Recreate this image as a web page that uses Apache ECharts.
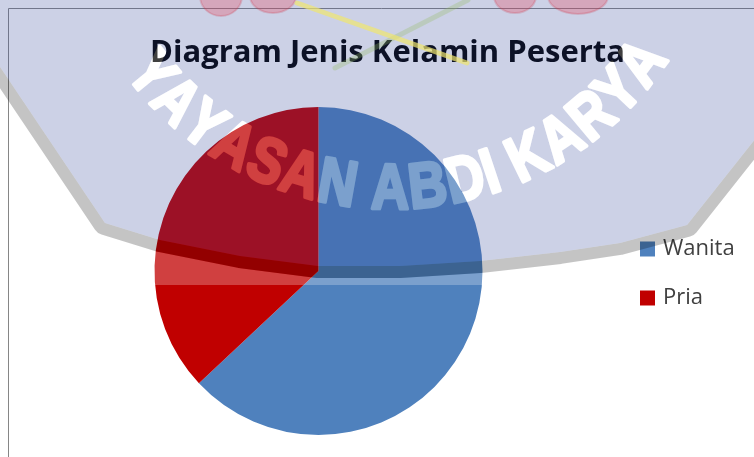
<!DOCTYPE html>
<html>
<head>
<meta charset="utf-8">
<script src="https://cdn.jsdelivr.net/npm/echarts@6/dist/echarts.min.js"></script>
<style>
html,body{margin:0;padding:0;background:#fff}
#main{width:754px;height:457px}
</style>
</head>
<body>
<div id="main"></div>
<script>
const genderLabels = ['Wanita', 'Pria'];
const genderValues = [63, 37];
const sliceColors = ['#4f81bd', '#c00000'];
const titleText = 'Diagram Jenis Kelamin Peserta';
const watermarkText = 'YAYASAN ABDI KARYA';

// the scanned page has a logo watermark over the chart, drawn once here
function letterMask(w, h) {
  const cv = document.createElement('canvas');
  cv.width = w; cv.height = h;
  const ctx = cv.getContext('2d');
  const cx = 392, cy = -122, r = 313, target = 606, mid = 88.5 * Math.PI / 180;
  const fs = 64;
  const chars = watermarkText.split('');
  ctx.font = 'bold ' + fs + 'px "Liberation Sans", Arial, sans-serif';
  const raw = chars.map(c => ctx.measureText(c).width);
  const sx = target / raw.reduce((a, b) => a + b, 0);
  const widths = raw.map(v => v * sx);
  const start = mid + target / 2 / r;
  ctx.textAlign = 'center';
  ctx.textBaseline = 'middle';
  ctx.fillStyle = '#fff';
  ctx.strokeStyle = '#fff';
  ctx.lineWidth = 3.5;
  ctx.lineJoin = 'round';
  let acc = 0;
  chars.forEach((c, i) => {
    const th = start - (acc + widths[i] / 2) / r;
    acc += widths[i];
    if (c === ' ') return;
    ctx.save();
    ctx.translate(cx + r * Math.cos(th), cy + r * Math.sin(th));
    ctx.rotate(th - Math.PI / 2);
    ctx.scale(sx, 1);
    ctx.fillText(c, 0, 0);
    ctx.strokeText(c, 0, 0);
    ctx.restore();
  });
  return cv;
}

function makeWatermark(w, h) {
  const cv = document.createElement('canvas');
  cv.width = w; cv.height = h;
  const ctx = cv.getContext('2d');
  const band = [[-30,-30],[790,-30],[790,95],[687,225],[620,243],[560,252],[480,261],[400,266],[318,266],[240,256],[160,240],[105,223],[-22,34]];
  function bandPath() {
    ctx.beginPath();
    band.forEach((p, i) => i ? ctx.lineTo(p[0], p[1]) : ctx.moveTo(p[0], p[1]));
    ctx.closePath();
  }
  ctx.lineJoin = 'round';
  ctx.fillStyle = 'rgba(255,255,255,0.25)';
  ctx.fillRect(140, 230, 360, 55);
  ctx.globalCompositeOperation = 'destination-out';
  bandPath();
  ctx.lineWidth = 24; ctx.fillStyle = '#000'; ctx.strokeStyle = '#000';
  ctx.fill(); ctx.stroke();
  ctx.globalCompositeOperation = 'source-over';
  bandPath();
  ctx.strokeStyle = 'rgba(0,0,0,0.23)';
  ctx.stroke();
  ctx.globalCompositeOperation = 'destination-out';
  bandPath(); ctx.fill();
  ctx.globalCompositeOperation = 'source-over';
  bandPath();
  ctx.fillStyle = 'rgba(49,69,154,0.247)';
  ctx.fill();

  // logo bits at the top
  ctx.fillStyle = 'rgba(235,70,90,0.3)';
  ctx.strokeStyle = 'rgba(200,40,60,0.2)';
  ctx.lineWidth = 2;
  [[221,21,20],[273,23,17],[515,21,17],[578,30,18]].forEach(s => {
    ctx.beginPath();
    ctx.ellipse(s[0], -4, s[1], s[2], 0, 0, Math.PI);
    ctx.closePath();
    ctx.fill(); ctx.stroke();
  });
  ctx.lineCap = 'round';
  ctx.strokeStyle = 'rgba(150,190,100,0.3)';
  ctx.lineWidth = 5;
  ctx.beginPath(); ctx.moveTo(468, 0); ctx.lineTo(335, 68); ctx.stroke();
  ctx.strokeStyle = 'rgba(240,230,110,0.7)';
  ctx.beginPath(); ctx.moveTo(297, 3); ctx.lineTo(467, 63); ctx.stroke();

  // letters: punch through the band, then a light white wash
  const mask = letterMask(w, h);
  ctx.globalCompositeOperation = 'destination-out';
  ctx.drawImage(mask, 0, 0);
  ctx.globalCompositeOperation = 'source-over';
  ctx.globalAlpha = 0.25;
  ctx.drawImage(mask, 0, 0);
  ctx.globalAlpha = 1;
  return cv;
}

const chart = echarts.init(document.getElementById('main'));
chart.setOption({
  animation: false,
  backgroundColor: '#fff',
  title: {
    text: titleText,
    left: 150,
    top: 38,
    padding: 0,
    textStyle: { fontFamily: 'Open Sans', fontWeight: 'bold', fontSize: 31, color: '#000' }
  },
  legend: {
    orient: 'vertical',
    left: 640,
    top: 238,
    padding: 0,
    icon: 'rect',
    itemWidth: 15,
    itemHeight: 15,
    itemGap: 27,
    data: genderLabels,
    textStyle: { fontFamily: 'Open Sans', fontSize: 22, color: '#404040', padding: [0, 0, 0, 3] }
  },
  graphic: [
    {
      type: 'polyline',
      z: 1,
      silent: true,
      shape: { points: [[8.5, 457], [8.5, 8.5], [754, 8.5]] },
      style: { stroke: '#868686', lineWidth: 1, fill: null }
    },
    {
      type: 'image',
      x: 0, y: 0,
      zlevel: 1,
      z: 100,
      silent: true,
      style: { image: makeWatermark(754, 457), x: 0, y: 0, width: 754, height: 457 }
    }
  ],
  series: [{
    type: 'pie',
    center: [318.5, 271],
    radius: 164,
    startAngle: 90,
    clockwise: true,
    label: { show: false },
    labelLine: { show: false },
    itemStyle: { borderWidth: 0 },
    emphasis: { disabled: true },
    data: genderLabels.map((n, i) => ({ name: n, value: genderValues[i], itemStyle: { color: sliceColors[i] } }))
  }]
});
</script>
</body>
</html>
